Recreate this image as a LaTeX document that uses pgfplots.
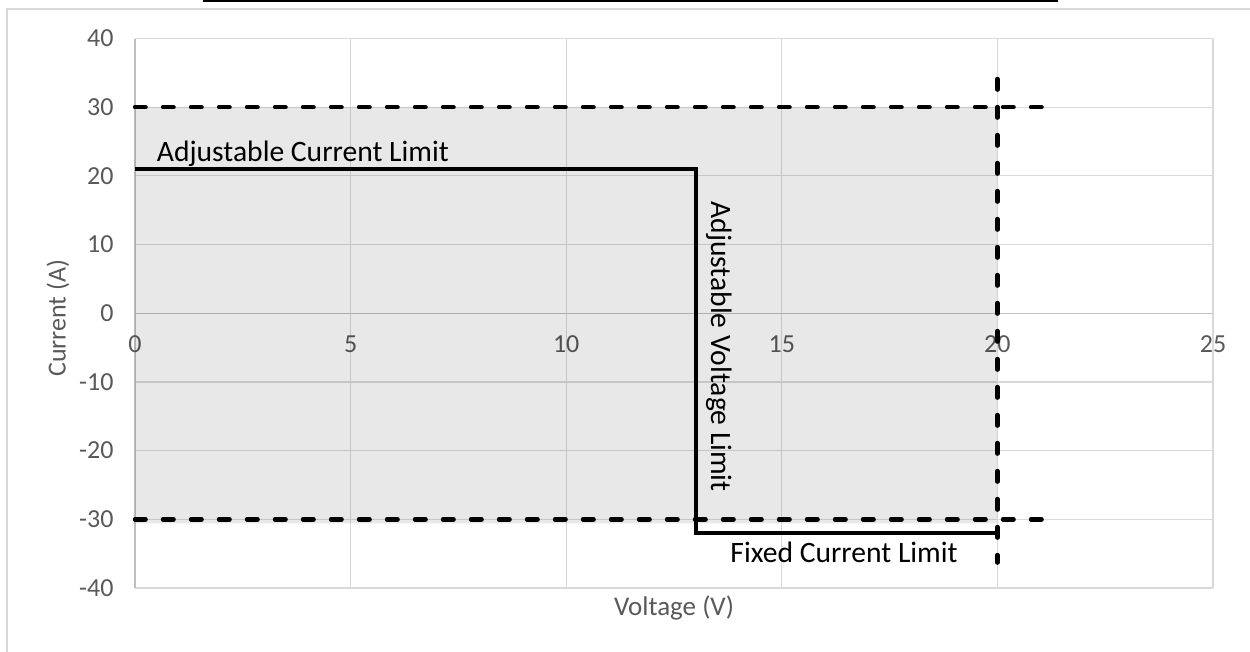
\documentclass[border=0pt]{standalone}
\usepackage{fontspec}
\setmainfont{Carlito}
\usepackage{pgfplots}
\pgfplotsset{compat=1.18}
\definecolor{gridgray}{HTML}{D9D9D9}
\definecolor{axisgray}{HTML}{BFBFBF}
\definecolor{labelgray}{HTML}{595959}
\begin{document}
\begin{tikzpicture}
\begin{axis}[
  at={(0pt,0pt)}, anchor=south west,
  scale only axis, width=539pt, height=274.75pt,
  xmin=0, xmax=25, ymin=-40, ymax=40,
  axis x line=middle, axis y line=left,
  axis line style={-, draw=axisgray, line width=0.7pt},
  every inner x axis line/.append style={-},
  every outer x axis line/.append style={-},
  every inner y axis line/.append style={-},
  every outer y axis line/.append style={-},
  xtick={0,5,10,15,20,25}, ytick={-40,-30,-20,-10,0,10,20,30,40},
  grid=major, grid style={draw=gridgray, line width=0.6pt},
  major tick length=0pt, tick style={draw=none},
  hide obscured x ticks=false, hide obscured y ticks=false,
  /pgf/number format/assume math mode=true,
  tick label style={font=\fontsize{13}{15}\selectfont, text=labelgray},
  xticklabel style={anchor=center, yshift=-15.5pt},
  yticklabel style={anchor=east, xshift=-7.2pt},
  every axis x label/.style={at={(axis description cs:0.5,-0.0364)}, anchor=center, font=\fontsize{13.5}{15}\selectfont, text=labelgray},
  every axis y label/.style={at={(axis description cs:-0.0714,0.491)}, anchor=center, rotate=90, font=\fontsize{13}{15}\selectfont, text=labelgray},
  xlabel={Voltage (V)}, ylabel={Current (A)},
  clip=false,
]
% shaded operating region
\addplot[draw=none, fill=black, fill opacity=0.09] coordinates {(0,-30.6) (20,-30.6) (20,30) (0,30) (0,-30.6)};
% fixed limits (dashed)
\addplot[black, line width=2.2pt, line cap=round, dash pattern=on 5.3pt off 8.7pt] coordinates {(0,30) (21.05,30)};
\addplot[black, line width=2.2pt, line cap=round, dash pattern=on 5.3pt off 8.7pt] coordinates {(0,-30) (21.05,-30)};
\addplot[black, line width=2.2pt, line cap=round, dash pattern=on 5.3pt off 8.7pt] coordinates {(20,34.1) (20,-36.3)};
% adjustable limits (solid)
\addplot[black, line width=2pt, line join=miter] coordinates {(0,21) (13,21) (13,-32) (20,-32)};
% annotations
\node[anchor=base west, inner sep=0pt, font=\fontsize{14.8}{17}\selectfont] at (axis cs:0.5,22.15) {Adjustable Current Limit};
\node[anchor=base, rotate=-90, inner sep=0pt, font=\fontsize{14.8}{17}\selectfont] at (axis cs:13.36,-4.85) {Adjustable Voltage Limit};
\node[anchor=base west, inner sep=0pt, font=\fontsize{14.8}{17}\selectfont] at (axis cs:13.8,-36.25) {Fixed Current Limit};
\end{axis}
\pgfresetboundingbox
\useasboundingbox (-67.5pt,-32pt) rectangle (557.5pt,294pt);
\draw[gridgray, line width=0.75pt] (-64pt,-40pt) -- (-64pt,289.5pt) -- (570pt,289.5pt);
\draw[black, line width=1.25pt] (34pt,293.4pt) -- (461.5pt,293.4pt);
\end{tikzpicture}
\end{document}
